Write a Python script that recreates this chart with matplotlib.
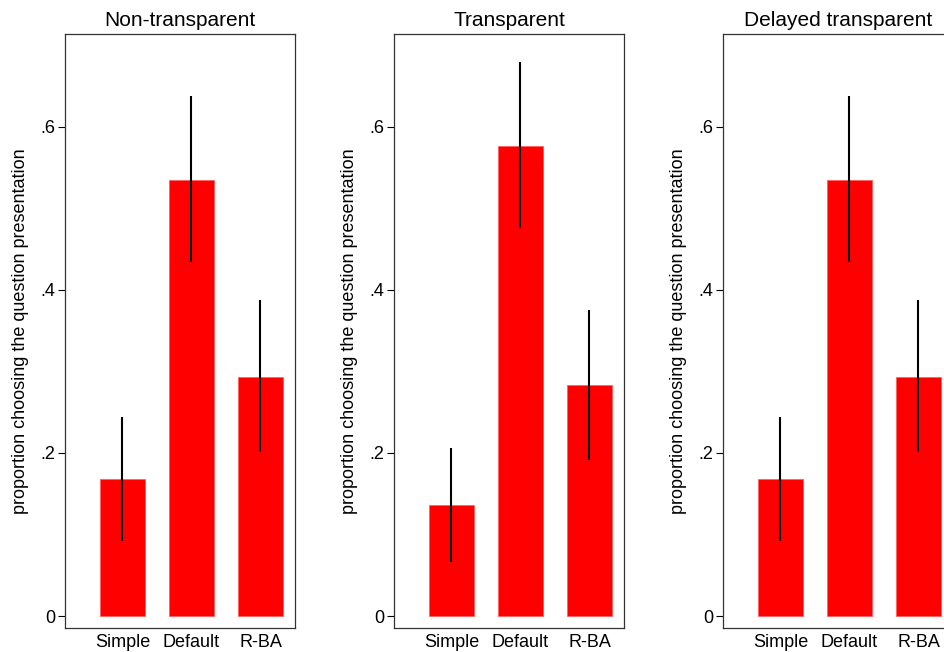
import matplotlib
matplotlib.use("Agg")
import matplotlib.pyplot as plt
import numpy as np

plt.rcParams['font.family'] = ['Liberation Sans', 'DejaVu Sans']

# data
panels = ['Non-transparent', 'Transparent', 'Delayed transparent']
categories = ['Simple', 'Default', 'R-BA']
props = [
    [0.168, 0.535, 0.293],
    [0.136, 0.577, 0.283],
    [0.168, 0.535, 0.293],
]
ci_low = [
    [0.092, 0.434, 0.201],
    [0.066, 0.476, 0.191],
    [0.092, 0.434, 0.201],
]
ci_high = [
    [0.244, 0.638, 0.388],
    [0.206, 0.680, 0.375],
    [0.244, 0.638, 0.388],
]
yticks = [0, 0.2, 0.4, 0.6]
ytick_labels = ['0', '.2', '.4', '.6']

W, H = 944, 652
fig = plt.figure(figsize=(W / 100, H / 100), dpi=100)

lefts = [65, 394, 723]
x = np.arange(1, len(categories) + 1)

for i, name in enumerate(panels):
    ax = fig.add_axes([lefts[i] / W, 24 / H, 230 / W, 594 / H])
    ax.bar(x, props[i], width=0.652, color='#ff0000', edgecolor='#ff6060', linewidth=0.6)
    ax.vlines(x, ci_low[i], ci_high[i], color='black', linewidth=1.5)
    ax.set_xlim(0.167, 3.5)
    ax.set_ylim(-0.0147, 0.714)
    ax.set_yticks(yticks)
    ax.set_yticklabels(ytick_labels)
    ax.set_xticks(x)
    ax.set_xticklabels(categories)
    ax.tick_params(axis='y', length=5, width=0.8, labelsize=13, pad=2)
    ax.tick_params(axis='x', length=0, labelsize=13, pad=4)
    for s in ax.spines.values():
        s.set_linewidth(0.9)
        s.set_color('#333333')
    ax.set_title(name, fontsize=15, pad=6)
    ax.set_ylabel('proportion choosing the question presentation', fontsize=13, labelpad=8)

fig.savefig('out.png', dpi=100)
